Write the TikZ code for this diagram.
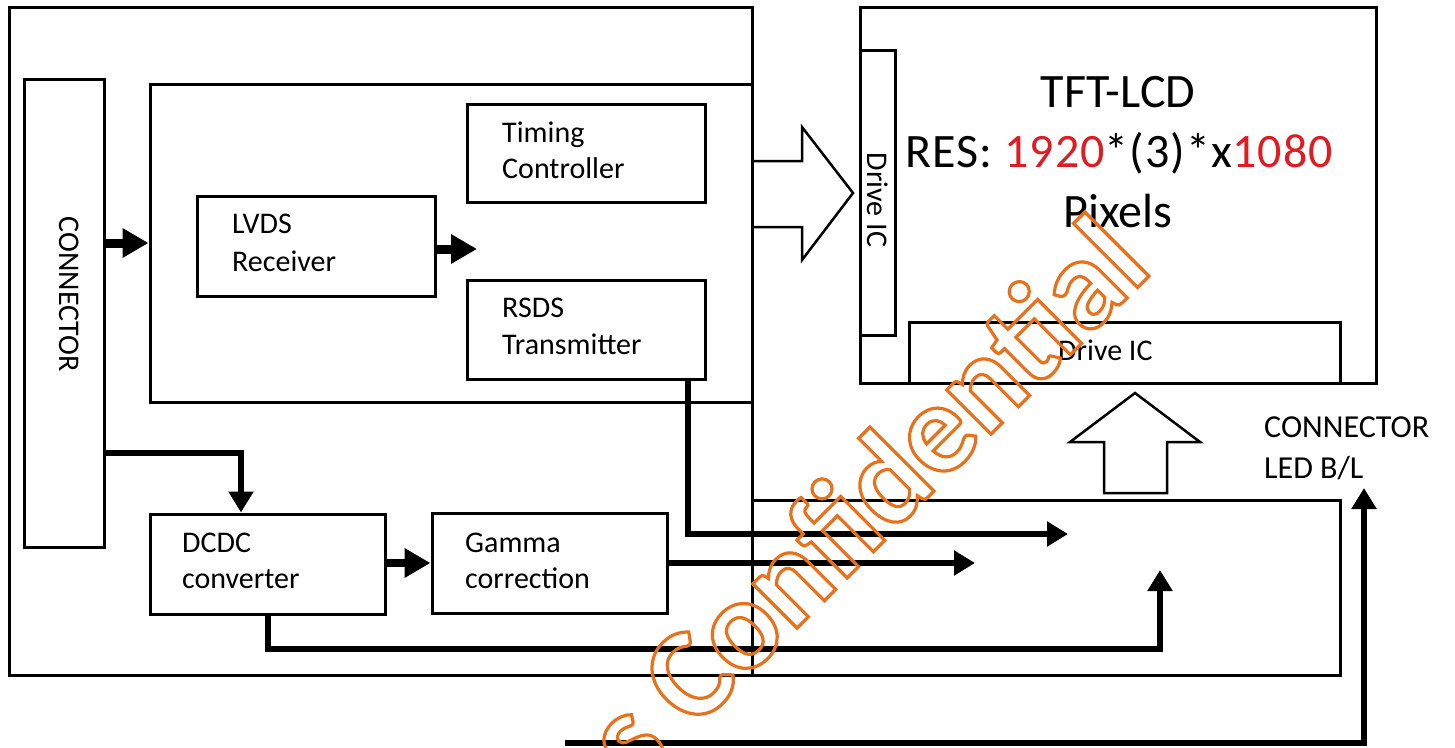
\documentclass[tikz,border=0pt]{standalone}
\usepackage{fontspec}
\setmainfont{Carlito}
\usetikzlibrary{arrows.meta}
\definecolor{wmorange}{RGB}{232,113,28}
\definecolor{resred}{RGB}{222,28,36}

\begin{document}
\begin{tikzpicture}[x=1pt, y=-1pt,
  box/.style={draw=black, line width=3pt, rectangle, inner sep=0pt},
  lbl/.style={inner sep=0pt, text=black, font=\fontsize{30}{36}\selectfont},
  sidelbl/.style={inner sep=0pt, text=black, font=\fontsize{32}{38}\selectfont},
  big/.style={inner sep=0pt, text=black, font=\fontsize{48}{58}\selectfont},
  hollow/.style={draw=black, line width=2.5pt, line join=miter},
  wire/.style={draw=black, line width=6.5pt, -{Triangle[length=21pt,width=24pt]}},
  stub/.style={draw=black, line width=9pt, -{Triangle[length=26pt,width=28pt]}},
  wmark/.style={inner sep=0pt, text=wmorange, font=\fontsize{129}{150}\selectfont\bfseries}
]
\useasboundingbox (0,0) rectangle (1455,747);
\fill[white] (0,0) rectangle (1455,747);

% ---- board side -------------------------------------------------------
\node[box, minimum width=743pt, minimum height=668pt] (outer) at (380.5,341) {};
\node[box, minimum width=80pt,  minimum height=468pt] (conn)  at (64,313) {};
\node[box, minimum width=602pt, minimum height=318pt] (inner) at (451,243) {};
\node[box, minimum width=238pt, minimum height=98pt]  (tcon)  at (586,153) {};
\node[box, minimum width=238pt, minimum height=100pt] (lvds)  at (316,246) {};
\node[box, minimum width=238pt, minimum height=99pt]  (rsds)  at (586,329.5) {};
\node[box, minimum width=235pt, minimum height=100pt] (dcdc)  at (267.5,564) {};
\node[box, minimum width=235pt, minimum height=100pt] (gamma) at (549.5,563.5) {};

% ---- panel side -------------------------------------------------------
\node[box, minimum width=516pt, minimum height=376pt] (tft)   at (1118,195) {};
\node[box, minimum width=35pt,  minimum height=285pt] (dicv)  at (877.5,192.5) {};
\node[box, minimum width=431pt, minimum height=61pt]  (dich)  at (1124.5,352.5) {};
\node[box, minimum width=588pt, minimum height=175pt] (bl)    at (1046,587.5) {};

% ---- labels -----------------------------------------------------------
\node[lbl, rotate=-90] (conntxt) at (69,294) {CONNECTOR};
\node[lbl, anchor=base west] (tcon1) at (502,142) {Timing};
\node[lbl, anchor=base west] (tcon2) at (502,178) {Controller};
\node[lbl, anchor=base west] (lvds1) at (232,233) {LVDS};
\node[lbl, anchor=base west] (lvds2) at (232,271) {Receiver};
\node[lbl, anchor=base west] (rsds1) at (502,317) {RSDS};
\node[lbl, anchor=base west] (rsds2) at (502,354) {Transmitter};
\node[lbl, anchor=base west] (dcdc1) at (182,552) {DCDC};
\node[lbl, anchor=base west] (dcdc2) at (182,588) {converter};
\node[lbl, anchor=base west] (gam1)  at (465,552) {Gamma};
\node[lbl, anchor=base west] (gam2)  at (465,588) {correction};
\node[lbl, rotate=-90] (dicvtxt) at (878,200) {Drive IC};
\node[lbl, anchor=base west] (dichtxt) at (1058,360) {Drive IC};
\node[sidelbl, anchor=base west] (blc1) at (1264,437) {CONNECTOR};
\node[sidelbl, anchor=base west] (blc2) at (1264,478) {LED B/L};

\node[big, anchor=base] (tft1) at (1118,107) {TFT-LCD};
\node[big, anchor=base] (tft2) at (1119,167)
  {\addfontfeature{LetterSpace=2.3}RES: \textcolor{resred}{1920}*(3)*x\textcolor{resred}{1080}};
\node[big, anchor=base] (tft3) at (1118,227) {Pixels};

% ---- hollow bus arrows ------------------------------------------------
\draw[hollow] (inner.east |- 0,161) -- (802,161) -- (802,127) -- (853,193)
  -- (802,260) -- (802,227) -- (inner.east |- 0,227);
\draw[hollow] (1104,493) -- (1104,442) -- (1070,442) -- (1135,393)
  -- (1200,442) -- (1167,442) -- (1167,493) -- cycle;

% ---- signal arrows ----------------------------------------------------
\coordinate (rsdsend)  at (1068,534);
\coordinate (gamend)   at (975,563);
\coordinate (pwrend)   at (1160,570);
\coordinate (blstart)  at (565,743);
\coordinate (blend)    at (1364,488);
\coordinate (lvdsend)  at (477,249);

\draw[stub] (conn.east |- 0,243) -- (inner.west |- 0,243);
\draw[stub] (lvds.east |- 0,249) -- (lvdsend);
\draw[stub, line width=8pt] (dcdc.east |- 0,563) -- (gamma.west |- 0,563);

\draw[wire] (conn.east |- 0,453) -| (241,0 |- dcdc.north);
\draw[wire] (688,0 |- rsds.south) |- (rsdsend);
\draw[wire] (gamma.east |- 0,563) -- (gamend);
\draw[wire] (268,0 |- dcdc.south) |- (pwrend |- 0,649) -- (pwrend);
\draw[wire] (blstart) -| (blend);

% ---- watermark (outlined glyphs) --------------------------------------
\begin{scope}
  \clip (0,0) rectangle (1455,747);
  \node[wmark, anchor=base west, rotate=45] (wm) at (637,788)
    {\special{pdf:literal direct 1 Tr 3.2 w}s Confidential\special{pdf:literal direct 0 Tr}};
\end{scope}
\end{tikzpicture}
\end{document}
